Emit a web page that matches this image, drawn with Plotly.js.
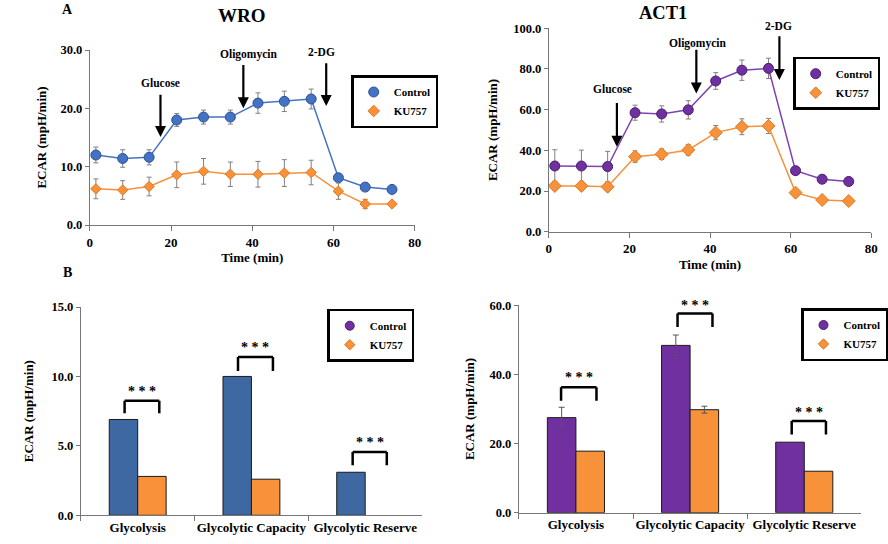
<!DOCTYPE html>
<html>
<head>
<meta charset="utf-8">
<script src="https://cdn.plot.ly/plotly-3.0.1.min.js"></script>
<style>html,body{margin:0;padding:0;background:#fff}#chart{width:888px;height:544px}</style>
</head>
<body>
<div id="chart"></div>
<script>
// ---------- data ----------
var timeMin = [1.5, 8.1, 14.6, 21.4, 28.0, 34.6, 41.4, 47.9, 54.5, 61.2, 67.8, 74.4];

var wroControl    = [12.0, 11.4, 11.6, 18.0, 18.5, 18.5, 20.9, 21.2, 21.6, 8.1, 6.5, 6.1];
var wroControlErr = [1.35, 1.5, 1.3, 1.1, 1.2, 1.2, 1.75, 1.75, 1.7, 0.3, 0.3, 0.3];
var wroKU757      = [6.2, 6.0, 6.6, 8.6, 9.2, 8.7, 8.7, 8.9, 9.0, 5.8, 3.6, 3.6];
var wroKU757Err   = [1.7, 1.6, 1.6, 2.2, 2.2, 2.1, 2.2, 2.3, 2.1, 1.4, 0.8, 0.4];

var act1Control    = [32.3, 32.3, 32.0, 58.5, 57.9, 59.9, 74.1, 79.4, 80.3, 30.0, 25.8, 24.7];
var act1ControlErr = [8.0, 7.8, 7.5, 3.7, 4.0, 4.5, 4.1, 5.0, 5.0, 1.0, 1.0, 1.0];
var act1KU757      = [22.5, 22.5, 22.1, 36.9, 38.1, 40.2, 48.7, 51.6, 52.0, 19.2, 15.6, 15.1];
var act1KU757Err   = [2.0, 2.0, 2.0, 2.8, 2.6, 2.6, 3.5, 3.9, 3.7, 1.0, 1.0, 1.0];

var injections = ['Glucose', 'Oligomycin', '2-DG'];

var categories = ['Glycolysis', 'Glycolytic Capacity', 'Glycolytic Reserve'];
var wroBarControl    = [6.9, 10.0, 3.1];
var wroBarKU757      = [2.8, 2.6, null];
var act1BarControl    = [27.5, 48.4, 20.4];
var act1BarControlErr = [3.0, 3.0, NaN];
var act1BarKU757      = [17.8, 29.8, 12.0];
var act1BarKU757Err   = [NaN, 1.0, NaN];
var sigLabel = '* * *';

// ---------- styling ----------
var FONT = 'Liberation Serif, Times New Roman, serif';
var BLUE = '#4472C4', BLUE_EDGE = '#2F528F', BAR_BLUE = '#3D68A2';
var ORANGE = '#F7923A', ORANGE_EDGE = '#E07A25';
var PURPLE = '#7030A0', PURPLE_LINE = '#7C44B0';
var AXC = '#777';

function W(px){ return px/888; }
function H(py){ return 1 - py/544; }

function lineTrace(y, err, xa, ya, color, lineColor, edge, symbol, size){
  return {
    type:'scatter', mode:'lines+markers', x: timeMin, y: y, xaxis: xa, yaxis: ya,
    showlegend:false, cliponaxis:false,
    line:{color: lineColor, width:1.5},
    marker:{symbol: symbol, size: size, color: color, line:{color: edge, width:1}},
    error_y:{type:'data', array: err, visible:true, color:'#808080', thickness:1, width:2.5}
  };
}
function legendTrace(name, symbol, color, edge, size, legend){
  return {type:'scatter', mode:'markers', x:[null], y:[null], name:name, legend:legend,
    marker:{symbol:symbol, size:size, color:color, line:{color:edge, width:1}}};
}

var traces = [
  lineTrace(wroControl, wroControlErr, 'x', 'y', BLUE, BLUE, BLUE_EDGE, 'circle', 10),
  lineTrace(wroKU757, wroKU757Err, 'x', 'y', ORANGE, ORANGE, ORANGE_EDGE, 'diamond', 8),
  lineTrace(act1Control, act1ControlErr, 'x2', 'y2', PURPLE, PURPLE_LINE, '#4B1E70', 'circle', 10),
  lineTrace(act1KU757, act1KU757Err, 'x2', 'y2', ORANGE, ORANGE, ORANGE_EDGE, 'diamond', 10),
  {type:'bar', x: categories, y: wroBarControl, xaxis:'x3', yaxis:'y3', showlegend:false,
   marker:{color: BAR_BLUE, line:{color:'#1a1a1a', width:1}}},
  {type:'bar', x: categories, y: wroBarKU757, xaxis:'x3', yaxis:'y3', showlegend:false,
   marker:{color: ORANGE, line:{color:'#1a1a1a', width:1}}},
  {type:'bar', x: categories, y: act1BarControl, xaxis:'x4', yaxis:'y4', showlegend:false,
   marker:{color: PURPLE, line:{color:'#1a1a1a', width:1}},
   error_y:{type:'data', array: act1BarControlErr, visible:true, color:'#555', thickness:1, width:3}},
  {type:'bar', x: categories, y: act1BarKU757, xaxis:'x4', yaxis:'y4', showlegend:false,
   marker:{color: ORANGE, line:{color:'#1a1a1a', width:1}},
   error_y:{type:'data', array: act1BarKU757Err, visible:true, color:'#555', thickness:1, width:3}},
  legendTrace('Control', 'circle', BLUE, BLUE_EDGE, 10, 'legend'),
  legendTrace('KU757', 'diamond', ORANGE, ORANGE_EDGE, 9, 'legend'),
  legendTrace('Control', 'circle', PURPLE, '#4B1E70', 10, 'legend2'),
  legendTrace('KU757', 'diamond', ORANGE, ORANGE_EDGE, 9, 'legend2'),
  legendTrace('Control', 'circle', PURPLE, '#4B1E70', 9, 'legend3'),
  legendTrace('KU757', 'diamond', ORANGE, ORANGE_EDGE, 8, 'legend3'),
  legendTrace('Control', 'circle', PURPLE, '#4B1E70', 9, 'legend4'),
  legendTrace('KU757', 'diamond', ORANGE, ORANGE_EDGE, 8, 'legend4')
];

function yAxis(domain, range, dtick, anchor, standoff){
  return {domain: domain, range: range, dtick: dtick, tickformat:'.1f', anchor: anchor,
    showline:true, linecolor:AXC, linewidth:1, ticks:'outside', ticklen:4, tickcolor:AXC,
    showgrid:false, zeroline:false, tickfont:{size:12.5},
    title:{text:'ECAR (mpH/min)', font:{size:13}, standoff: standoff}};
}
function xTime(domain, anchor){
  return {domain: domain, range:[0,80], dtick:20, anchor: anchor,
    showline:true, linecolor:AXC, linewidth:1, ticks:'outside', ticklen:5, tickcolor:AXC,
    showgrid:false, zeroline:false, tickfont:{size:13},
    title:{text:'Time (min)', font:{size:13}, standoff: 4}};
}
function xCat(domain, anchor){
  return {domain: domain, type:'category', anchor: anchor, tickson:'boundaries',
    tickangle:0, showline:true, linecolor:AXC, linewidth:1, ticks:'outside', ticklen:5,
    tickcolor:AXC, showgrid:false, zeroline:false, tickfont:{size:13}};
}
function legendBox(x, y){
  return {x: W(x), y: H(y), xanchor:'left', yanchor:'top', bgcolor:'#fff',
    bordercolor:'#000', borderwidth:2.5, font:{size:11, color:'#000'},
    itemwidth:30, tracegroupgap:0};
}

var annotations = [];
var shapes = [];
function txt(text, x, y, xref, yref, size){
  annotations.push({text:text, x:x, y:y, xref:xref, yref:yref, showarrow:false,
    font:{size:size}, xanchor:'center', yanchor:'middle'});
}
function arrow(xref, yref, x, yTip, yTail){
  annotations.push({text:'', x:x, y:yTip, ax:x, ay:yTail, xref:xref, yref:yref,
    axref:xref, ayref:yref, showarrow:true, arrowhead:2, arrowsize:1, arrowwidth:2.2,
    arrowcolor:'#000', standoff:0});
}
function bracket(xref, yref, x0, x1, top, leg, starY, starRef){
  var st = {type:'line', xref:xref, yref:yref, line:{color:'#000', width:2.5}};
  shapes.push(Object.assign({}, st, {x0:x0, x1:x0, y0:leg, y1:top}));
  shapes.push(Object.assign({}, st, {x0:x0, x1:x1, y0:top, y1:top}));
  shapes.push(Object.assign({}, st, {x0:x1, x1:x1, y0:top, y1:leg}));
  txt(sigLabel, (x0+x1)/2, starY, xref, starRef || yref, 14);
}

// panel letters and titles
txt('A', W(68), H(9), 'paper', 'paper', 14);
txt('B', W(68), H(272), 'paper', 'paper', 14);
txt('WRO', W(243), H(15), 'paper', 'paper', 19);
txt('ACT1', W(664), H(13), 'paper', 'paper', 18.5);

// injection arrows (WRO)
arrow('x', 'y', 17.4, 15.1, 22.6);  txt(injections[0], 17.4, 24.4, 'x', 'y', 11.5);
arrow('x', 'y', 37.8, 20.0, 27.7);  txt(injections[1], 39.1, 29.2, 'x', 'y', 11.5);
arrow('x', 'y', 58.2, 20.4, 28.0);  txt(injections[2], 57.0, 29.6, 'x', 'y', 11.5);
// injection arrows (ACT1)
arrow('x2', 'y2', 16.9, 41.8, 64.0); txt(injections[0], 15.9, 70.0, 'x2', 'y2', 11.5);
arrow('x2', 'y2', 36.6, 68.0, 90.2); txt(injections[1], 36.9, 92.7, 'x2', 'y2', 11.5);
arrow('x2', 'y2', 57.2, 74.6, 96.8); txt(injections[2], 56.9, H(26), 'x2', 'paper', 11.5);

// significance brackets
bracket('x3', 'y3', -0.115, 0.19, 8.25, 7.34, 8.95);
bracket('x3', 'y3', 0.882, 1.189, 11.4, 10.4, 12.05);
bracket('x3', 'y3', 1.89, 2.19, 4.56, 3.6, 5.25);
bracket('x4', 'y4', -0.13, 0.18, 36.3, 32.4, 39.0);
bracket('x4', 'y4', 0.89, 1.196, 57.6, 53.7, H(305), 'paper');
bracket('x4', 'y4', 1.89, 2.19, 26.5, 22.6, 28.9);

var layout = {
  width:888, height:544, margin:{l:0, r:0, t:0, b:0},
  paper_bgcolor:'#fff', plot_bgcolor:'rgba(0,0,0,0)',
  font:{family:FONT, weight:'bold', size:13, color:'#000'},
  barmode:'group', bargap:0.5, bargroupgap:0,
  xaxis:  xTime([W(90), W(415.7)], 'y'),
  yaxis:  yAxis([H(225), H(50)], [0,30], 10, 'x', 10),
  xaxis2: xTime([W(550), W(873.3)], 'y2'),
  yaxis2: yAxis([H(231.7), H(28.3)], [0,100], 20, 'x2', 12),
  xaxis3: xCat([W(81), W(423)], 'y3'),
  yaxis3: yAxis([H(515.3), H(307)], [0,15], 5, 'x3', 14),
  xaxis4: xCat([W(520), W(863.3)], 'y4'),
  yaxis4: yAxis([H(512.7), H(305.3)], [0,60], 20, 'x4', 11),
  legend:  legendBox(352, 75),
  legend2: legendBox(795, 56.7),
  legend3: legendBox(328, 308.7),
  legend4: legendBox(803, 308),
  annotations: annotations,
  shapes: shapes
};

Plotly.newPlot('chart', traces, layout, {displayModeBar:false, staticPlot:true});
</script>
</body>
</html>
